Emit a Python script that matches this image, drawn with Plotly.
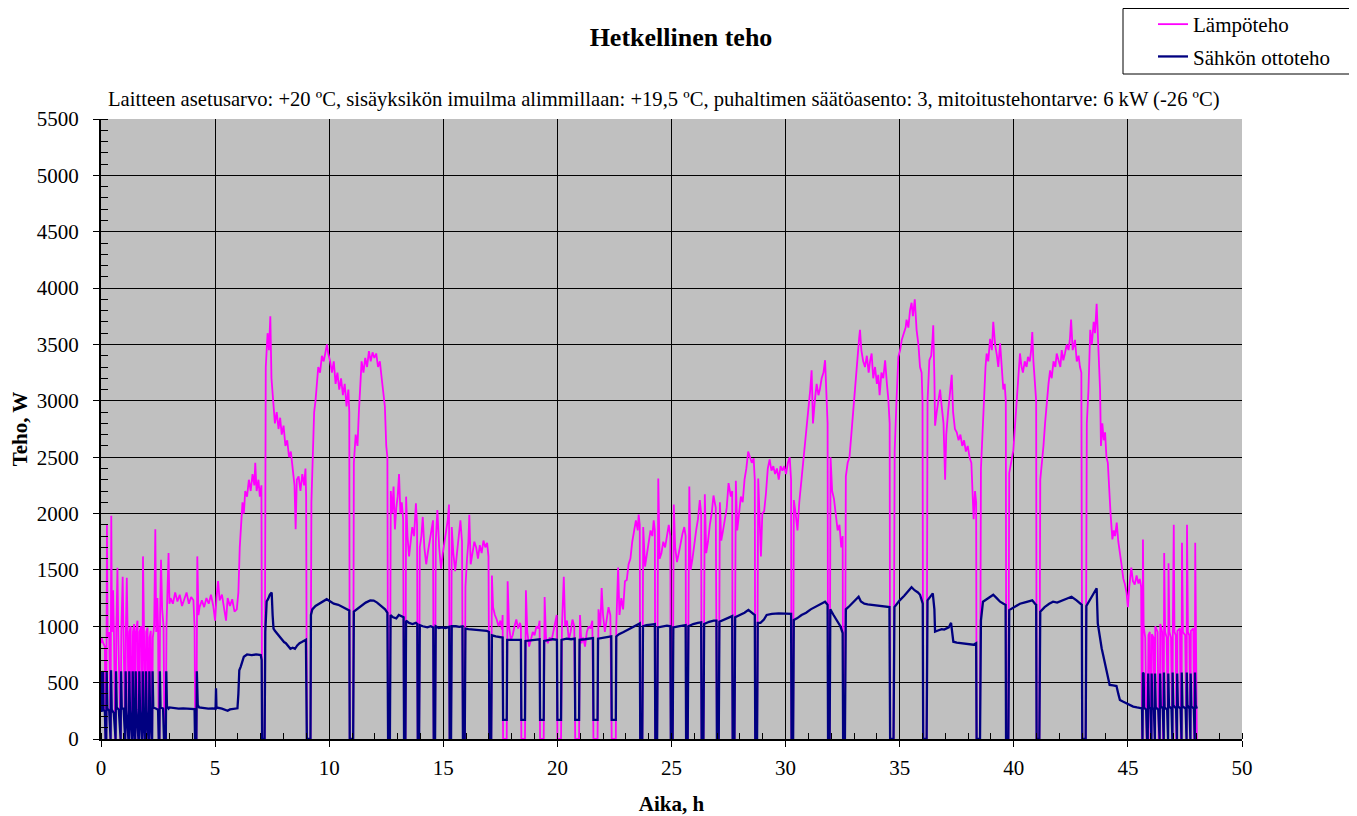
import plotly.graph_objects as go

# ---------------- data (hours, watts) ----------------
# Lämpöteho (heat output)
heat_00_03 = [(0.00, 850), (0.03, 900), (0.05, 880), (0.10, 850), (0.17, 820), (0.20, 0), (0.23, 0), (0.26, 1900),
              (0.29, 900), (0.36, 950), (0.40, 0), (0.42, 0), (0.45, 1980), (0.48, 950), (0.53, 1320), (0.57, 900),
              (0.62, 0), (0.64, 0), (0.67, 950), (0.72, 1520), (0.76, 900), (0.84, 0), (0.86, 0), (0.89, 950),
              (0.95, 1440), (0.99, 900), (1.04, 0), (1.06, 0), (1.09, 950), (1.13, 1430), (1.17, 900), (1.20, 0),
              (1.22, 0), (1.25, 950), (1.30, 1000), (1.35, 0), (1.37, 0), (1.40, 950), (1.45, 1020), (1.48, 0),
              (1.50, 0), (1.53, 950), (1.60, 1050), (1.64, 0), (1.66, 0), (1.69, 950), (1.76, 1000), (1.79, 0),
              (1.81, 0), (1.84, 1620), (1.88, 950), (1.93, 0), (1.95, 0), (1.98, 950), (2.04, 990), (2.08, 0),
              (2.10, 0), (2.13, 900), (2.18, 960), (2.22, 0), (2.24, 0), (2.27, 900), (2.33, 1000), (2.38, 1860),
              (2.42, 950), (2.47, 1250), (2.50, 1000), (2.53, 0), (2.56, 0), (2.59, 1100), (2.63, 1590), (2.68, 1150),
              (2.74, 1000), (2.78, 0), (2.84, 0), (2.87, 1000), (2.92, 1300), (2.96, 1650), (3.00, 1200)]
heat_03_06 = [(3.05, 1250), (3.15, 1200), (3.25, 1300), (3.35, 1220), (3.45, 1280), (3.55, 1180), (3.65, 1250),
              (3.75, 1300), (3.85, 1200), (3.95, 1260), (4.05, 1230), (4.10, 1000), (4.13, 0), (4.18, 0), (4.22, 1620),
              (4.27, 1100), (4.32, 1170), (4.42, 1230), (4.52, 1170), (4.62, 1250), (4.72, 1200), (4.82, 1280),
              (4.92, 1180), (5.00, 1050), (5.06, 1250), (5.13, 1400), (5.20, 1230), (5.30, 1280), (5.40, 1150),
              (5.48, 1050), (5.55, 1250), (5.65, 1180), (5.75, 1240), (5.85, 1130), (5.95, 1150)]
heat_06_09 = [(6.02, 1300), (6.08, 1700), (6.14, 1950), (6.20, 2100), (6.26, 2000), (6.32, 2200), (6.40, 2150),
              (6.48, 2300), (6.56, 2200), (6.64, 2350), (6.72, 2250), (6.76, 2450), (6.82, 2200), (6.90, 2300),
              (6.96, 2150), (7.03, 2250), (7.06, 0), (7.17, 0), (7.22, 3300), (7.30, 3600), (7.36, 3450), (7.42, 3750),
              (7.47, 3200), (7.55, 2950), (7.62, 2800), (7.70, 2900), (7.78, 2750), (7.85, 2850), (7.92, 2700),
              (8.00, 2780), (8.08, 2600), (8.16, 2650), (8.24, 2500), (8.32, 2550), (8.40, 2400), (8.48, 2250),
              (8.53, 1860), (8.58, 2300), (8.66, 2330), (8.74, 2200), (8.82, 2350), (8.90, 2250), (8.96, 2400),
              (8.99, 2150), (9.02, 0), (9.18, 0)]
heat_09_13 = [(9.22, 2100), (9.28, 2500), (9.34, 2900), (9.40, 3000), (9.46, 3200), (9.52, 3300), (9.60, 3250),
              (9.68, 3400), (9.76, 3350), (9.84, 3450), (9.90, 3500), (9.96, 3420), (10.04, 3350), (10.12, 3250),
              (10.20, 3350), (10.28, 3150), (10.36, 3250), (10.44, 3100), (10.52, 3200), (10.60, 3050), (10.68, 3150),
              (10.76, 2950), (10.84, 3100), (10.88, 2900), (10.90, 0), (11.05, 0), (11.08, 2450), (11.16, 2700),
              (11.24, 2600), (11.30, 2900), (11.36, 3200), (11.42, 3350), (11.50, 3250), (11.58, 3380), (11.66, 3300),
              (11.74, 3440), (11.82, 3350), (11.90, 3430), (11.98, 3380), (12.06, 3420), (12.14, 3300), (12.22, 3350),
              (12.30, 3200), (12.38, 3050), (12.44, 2950), (12.50, 2600), (12.55, 2500), (12.58, 0), (12.66, 0)]
heat_13_17 = [(12.70, 2200), (12.76, 2000), (12.82, 2240), (12.88, 1860), (12.94, 2050), (13.00, 2150), (13.06, 2350),
              (13.12, 2000), (13.18, 2100), (13.24, 1950), (13.28, 0), (13.34, 0), (13.37, 2150), (13.43, 1800),
              (13.50, 1620), (13.56, 1750), (13.64, 1880), (13.72, 1800), (13.80, 2090), (13.85, 1900), (13.88, 0),
              (13.94, 0), (13.97, 1700), (14.04, 1800), (14.10, 1970), (14.17, 1700), (14.25, 1550), (14.32, 1650),
              (14.40, 1750), (14.47, 1850), (14.55, 1940), (14.58, 0), (14.64, 0), (14.67, 1750), (14.74, 2030),
              (14.82, 1700), (14.90, 1510), (14.98, 1650), (15.05, 1750), (15.12, 1850), (15.20, 1950), (15.25, 2080),
              (15.28, 0), (15.34, 0), (15.37, 1880), (15.44, 1650), (15.52, 1490), (15.60, 1650), (15.68, 1800),
              (15.75, 1940), (15.82, 1750), (15.86, 0), (15.94, 0), (15.97, 1350), (16.04, 1600), (16.10, 1750),
              (16.14, 1990), (16.20, 1550), (16.28, 1650), (16.36, 1750), (16.44, 1700), (16.52, 1600), (16.60, 1720),
              (16.68, 1650), (16.76, 1760), (16.84, 1700), (16.92, 1740), (16.98, 1620), (17.02, 0), (17.10, 0)]
heat_17_23 = [(17.13, 1450), (17.18, 1170), (17.26, 1100), (17.34, 1060), (17.42, 1000), (17.50, 1050), (17.57, 970),
              (17.60, 1100), (17.62, 0), (17.78, 0), (17.82, 1400), (17.88, 1000), (17.96, 880), (18.04, 920),
              (18.12, 1000), (18.20, 1060), (18.28, 980), (18.36, 1030), (18.40, 1000), (18.42, 0), (18.58, 0),
              (18.62, 1320), (18.68, 950), (18.76, 820), (18.84, 880), (18.92, 950), (19.00, 920), (19.08, 1000),
              (19.16, 980), (19.22, 1050), (19.24, 0), (19.40, 0), (19.44, 1260), (19.50, 900), (19.58, 850),
              (19.66, 900), (19.74, 870), (19.82, 950), (19.90, 1000), (19.97, 1100), (20.00, 0), (20.16, 0),
              (20.20, 1000), (20.28, 1440), (20.34, 1000), (20.42, 1050), (20.50, 880), (20.58, 950), (20.66, 1060),
              (20.74, 1000), (20.78, 0), (20.95, 0), (20.99, 1100), (21.05, 850), (21.13, 900), (21.21, 820),
              (21.29, 950), (21.37, 1000), (21.45, 980), (21.53, 1050), (21.58, 0), (21.76, 0), (21.80, 1150),
              (21.88, 1000), (21.94, 1340), (22.00, 1100), (22.08, 950), (22.16, 1050), (22.24, 1170), (22.32, 1100),
              (22.38, 0), (22.56, 0)]
heat_23_30 = [(22.58, 1000), (22.66, 1520), (22.72, 1100), (22.80, 1250), (22.88, 1150), (22.96, 1400), (23.04, 1410),
              (23.12, 1550), (23.20, 1600), (23.28, 1750), (23.36, 1850), (23.44, 1940), (23.52, 1850), (23.56, 1990),
              (23.61, 1900), (23.63, 0), (23.72, 0), (23.76, 1880), (23.84, 1530), (23.92, 1650), (24.00, 1750),
              (24.08, 1850), (24.16, 1800), (24.22, 1940), (24.27, 1850), (24.29, 0), (24.37, 0), (24.42, 2310),
              (24.48, 1600), (24.56, 1650), (24.64, 1750), (24.72, 1700), (24.80, 1800), (24.88, 1900), (24.95, 1800),
              (24.97, 0), (25.05, 0), (25.10, 2080), (25.16, 1700), (25.24, 1570), (25.32, 1650), (25.40, 1750),
              (25.48, 1820), (25.56, 1880), (25.62, 1800), (25.64, 0), (25.71, 0), (25.78, 2240), (25.84, 1500),
              (25.92, 1600), (26.00, 1750), (26.08, 1850), (26.16, 1950), (26.24, 2120), (26.30, 2000), (26.32, 0),
              (26.40, 0), (26.46, 2170), (26.52, 1650), (26.60, 1750), (26.68, 1900), (26.76, 2000), (26.84, 2160),
              (26.94, 2050), (26.99, 0), (27.07, 0), (27.12, 2100), (27.18, 1760), (27.26, 1850), (27.34, 1950),
              (27.42, 2050), (27.50, 2270), (27.60, 2150), (27.66, 2200), (27.68, 0), (27.76, 0), (27.82, 2290),
              (27.88, 1850), (27.96, 2000), (28.04, 2150), (28.12, 2100), (28.20, 2300), (28.28, 2400), (28.36, 2550),
              (28.44, 2500), (28.52, 2450), (28.60, 2490), (28.65, 2300), (28.67, 0), (28.75, 0), (28.80, 2310),
              (28.86, 1900), (28.92, 1620), (28.98, 2000), (29.06, 2020), (29.14, 2180), (29.22, 2400), (29.30, 2480),
              (29.38, 2380), (29.46, 2420), (29.54, 2350), (29.62, 2400), (29.70, 2300), (29.78, 2420), (29.86, 2380),
              (29.94, 2420), (30.02, 2350), (30.10, 2450), (30.18, 2500), (30.24, 2300), (30.26, 0), (30.33, 0)]
heat_30_36 = [(30.36, 2120), (30.44, 2000), (30.52, 1850), (30.60, 2100), (30.70, 2300), (30.80, 2550), (30.90, 2700),
              (31.00, 2900), (31.08, 3100), (31.14, 3270), (31.20, 2800), (31.28, 3000), (31.36, 3150), (31.44, 3050),
              (31.50, 3100), (31.58, 3200), (31.66, 3250), (31.73, 3360), (31.79, 3000), (31.84, 2800), (31.86, 0),
              (31.93, 0), (31.97, 2500), (32.04, 2200), (32.12, 2130), (32.20, 2000), (32.28, 1850), (32.36, 1900),
              (32.44, 1700), (32.50, 1800), (32.52, 0), (32.60, 0), (32.64, 2330), (32.72, 2450), (32.80, 2500),
              (32.88, 2700), (32.94, 2860), (33.02, 3050), (33.08, 3250), (33.16, 3400), (33.22, 3550), (33.26, 3630),
              (33.32, 3450), (33.40, 3350), (33.48, 3300), (33.56, 3400), (33.64, 3250), (33.70, 3350), (33.77, 3420),
              (33.84, 3200), (33.92, 3300), (34.00, 3150), (34.06, 3230), (34.12, 3050), (34.20, 3250), (34.28, 3200),
              (34.36, 3360), (34.44, 3150), (34.50, 3020), (34.56, 2800), (34.58, 0), (34.73, 0), (34.78, 2560),
              (34.86, 3000), (34.94, 3390), (35.02, 3450), (35.09, 3540), (35.18, 3600), (35.26, 3650), (35.30, 3720),
              (35.38, 3650), (35.45, 3800), (35.52, 3870), (35.58, 3750), (35.66, 3900), (35.74, 3630), (35.82, 3500),
              (35.89, 3300), (35.96, 3250), (36.00, 3000), (36.03, 0), (36.18, 0)]
heat_36_43 = [(36.22, 3000), (36.30, 3360), (36.38, 3400), (36.44, 3550), (36.47, 3670), (36.52, 3200), (36.55, 2780),
              (36.62, 2900), (36.70, 3000), (36.77, 3100), (36.84, 2950), (36.92, 2800), (36.99, 2300), (37.04, 2700),
              (37.12, 2900), (37.20, 3050), (37.28, 3230), (37.34, 2900), (37.42, 2750), (37.50, 2720), (37.58, 2650),
              (37.66, 2700), (37.74, 2600), (37.82, 2650), (37.90, 2550), (37.98, 2600), (38.06, 2500), (38.14, 2450),
              (38.20, 2200), (38.24, 1950), (38.30, 2200), (38.35, 2100), (38.37, 0), (38.52, 0), (38.56, 2400),
              (38.62, 2720), (38.70, 3100), (38.76, 3300), (38.81, 3420), (38.88, 3350), (38.96, 3550), (39.04, 3450),
              (39.10, 3700), (39.18, 3500), (39.26, 3400), (39.32, 3300), (39.40, 3510), (39.48, 3250), (39.54, 3100),
              (39.60, 3150), (39.65, 3000), (39.67, 0), (39.76, 0), (39.80, 2360), (39.88, 2450), (39.98, 2560),
              (40.06, 2800), (40.12, 3000), (40.20, 3250), (40.27, 3420), (40.34, 3300), (40.40, 3250), (40.48, 3350),
              (40.56, 3300), (40.62, 3390), (40.70, 3350), (40.76, 3450), (40.81, 3610), (40.86, 3350), (40.93, 3110),
              (40.98, 3000), (41.00, 0), (41.12, 0), (41.16, 2300), (41.24, 2450), (41.30, 2600), (41.37, 2800),
              (41.44, 3000), (41.52, 3150), (41.59, 3270), (41.66, 3200), (41.74, 3350), (41.82, 3300), (41.88, 3420),
              (41.96, 3350), (42.04, 3300), (42.10, 3450), (42.17, 3360), (42.24, 3420), (42.32, 3500), (42.40, 3450),
              (42.46, 3550), (42.51, 3720), (42.58, 3450), (42.64, 3500), (42.68, 3540), (42.76, 3350), (42.84, 3400),
              (42.90, 3300), (42.96, 3250), (43.00, 0), (43.15, 0)]
heat_43_48 = [(43.20, 2800), (43.27, 3090), (43.35, 3630), (43.42, 3500), (43.50, 3700), (43.56, 3600), (43.63, 3860),
              (43.68, 3500), (43.72, 3400), (43.78, 3100), (43.82, 2600), (43.88, 2800), (43.94, 2650), (44.00, 2720),
              (44.06, 2500), (44.12, 2450), (44.17, 2210), (44.24, 2000), (44.32, 1770), (44.38, 1850), (44.44, 1800),
              (44.51, 1920), (44.58, 1750), (44.65, 1620), (44.72, 1550), (44.80, 1420), (44.86, 1380), (44.94, 1300),
              (45.00, 1170), (45.06, 1350), (45.15, 1520), (45.22, 1400), (45.30, 1370), (45.38, 1450), (45.46, 1380),
              (45.52, 1420), (45.58, 1350), (45.62, 0), (45.64, 0), (45.66, 1770), (45.69, 1000), (45.76, 900),
              (45.82, 0), (45.87, 0), (45.90, 920), (45.96, 950), (45.99, 0), (46.03, 0), (46.05, 930), (46.12, 900),
              (46.15, 0), (46.18, 0), (46.20, 1000), (46.30, 950), (46.35, 0), (46.39, 0), (46.42, 1020), (46.50, 950),
              (46.54, 0), (46.57, 0), (46.59, 1650), (46.63, 950), (46.70, 900), (46.73, 0), (46.76, 0), (46.78, 1560),
              (46.82, 950), (46.89, 900), (46.92, 0), (46.95, 0), (46.97, 1000), (47.01, 1900), (47.04, 950),
              (47.10, 920), (47.12, 0), (47.15, 0), (47.17, 960), (47.28, 980), (47.32, 0), (47.35, 0), (47.37, 1740),
              (47.41, 950), (47.51, 920), (47.54, 0), (47.57, 0), (47.59, 1900), (47.63, 950), (47.69, 920), (47.71, 0),
              (47.74, 0), (47.76, 960), (47.87, 980), (47.90, 0), (47.93, 0), (47.95, 1740), (47.98, 950), (48.02, 0)]

# Sähkön ottoteho (electric input power)
elec_00_03 = [(0.00, 250), (0.03, 250), (0.05, 600), (0.09, 590), (0.11, 260), (0.17, 240), (0.20, 0), (0.23, 0),
              (0.25, 600), (0.28, 270), (0.36, 250), (0.40, 0), (0.42, 0), (0.44, 610), (0.47, 260), (0.56, 230),
              (0.62, 0), (0.64, 0), (0.66, 600), (0.69, 280), (0.78, 260), (0.84, 0), (0.86, 0), (0.88, 600),
              (0.91, 270), (0.99, 270), (1.04, 0), (1.06, 0), (1.08, 600), (1.11, 250), (1.20, 0), (1.22, 0),
              (1.24, 600), (1.27, 250), (1.35, 0), (1.37, 0), (1.39, 600), (1.42, 250), (1.48, 0), (1.50, 0),
              (1.52, 600), (1.55, 260), (1.64, 0), (1.66, 0), (1.68, 600), (1.71, 250), (1.79, 0), (1.81, 0),
              (1.83, 600), (1.86, 250), (1.93, 0), (1.95, 0), (1.97, 600), (2.00, 250), (2.08, 0), (2.10, 0),
              (2.12, 600), (2.15, 250), (2.22, 0), (2.24, 0), (2.26, 600), (2.29, 280), (2.40, 270), (2.50, 260),
              (2.53, 0), (2.56, 0), (2.58, 600), (2.61, 280), (2.72, 270), (2.76, 0), (2.84, 0), (2.86, 600),
              (2.89, 290), (2.96, 270)]
elec_03_09 = [(3.00, 280), (3.20, 275), (3.40, 270), (3.60, 272), (3.80, 268), (4.00, 270), (4.10, 265), (4.12, 0),
              (4.18, 0), (4.20, 600), (4.24, 300), (4.30, 280), (4.50, 275), (4.70, 270), (4.90, 272), (5.02, 268),
              (5.04, 450), (5.06, 280), (5.30, 270), (5.45, 255), (5.55, 250), (5.65, 262), (5.85, 270), (5.98, 272),
              (6.02, 400), (6.06, 610), (6.12, 640), (6.18, 690), (6.26, 730), (6.40, 750), (6.60, 745), (6.80, 750),
              (7.00, 745), (7.04, 700), (7.06, 0), (7.17, 0), (7.20, 950), (7.26, 1220), (7.32, 1240), (7.40, 1280),
              (7.48, 1300), (7.52, 1100), (7.56, 980), (7.62, 960), (7.70, 940), (7.78, 920), (7.86, 900), (7.94, 880),
              (8.02, 860), (8.10, 850), (8.20, 820), (8.30, 800), (8.40, 810), (8.50, 800), (8.60, 830), (8.70, 850),
              (8.80, 860), (8.90, 870), (8.98, 880), (9.02, 0), (9.18, 0)]
elec_09_17 = [(9.20, 1100), (9.26, 1150), (9.40, 1180), (9.55, 1200), (9.70, 1220), (9.89, 1240), (10.05, 1220),
              (10.20, 1200), (10.40, 1190), (10.60, 1170), (10.80, 1150), (10.88, 1140), (10.90, 0), (11.05, 0),
              (11.08, 1130), (11.20, 1150), (11.40, 1180), (11.60, 1210), (11.80, 1230), (11.95, 1228), (12.10, 1210),
              (12.30, 1180), (12.45, 1150), (12.55, 1120), (12.58, 0), (12.66, 0), (12.69, 1100), (12.80, 1080),
              (12.94, 1070), (13.05, 1100), (13.20, 1090), (13.26, 1080), (13.28, 0), (13.34, 0), (13.37, 1050),
              (13.50, 1030), (13.65, 1020), (13.80, 1030), (13.86, 1020), (13.88, 0), (13.94, 0), (13.97, 1010),
              (14.10, 1000), (14.30, 990), (14.45, 1000), (14.56, 990), (14.58, 0), (14.64, 0), (14.67, 1000),
              (14.80, 985), (14.95, 990), (15.10, 985), (15.26, 995), (15.28, 0), (15.34, 0), (15.37, 1000),
              (15.55, 1000), (15.70, 995), (15.84, 1000), (15.86, 0), (15.94, 0), (15.97, 980), (16.10, 975),
              (16.30, 970), (16.50, 968), (16.70, 965), (16.90, 960), (17.00, 950), (17.02, 0), (17.10, 0)]
elec_17_23 = [(17.13, 920), (17.30, 910), (17.50, 905), (17.60, 900), (17.62, 170), (17.78, 170), (17.80, 880),
              (18.00, 880), (18.20, 885), (18.40, 880), (18.42, 170), (18.58, 170), (18.60, 870), (18.80, 875),
              (19.00, 880), (19.22, 885), (19.24, 170), (19.40, 170), (19.42, 870), (19.60, 880), (19.80, 885),
              (19.98, 880), (20.00, 170), (20.16, 170), (20.18, 880), (20.40, 890), (20.60, 885), (20.76, 890),
              (20.78, 170), (20.95, 170), (20.97, 880), (21.20, 885), (21.40, 890), (21.56, 895), (21.58, 170),
              (21.76, 170), (21.78, 890), (22.00, 900), (22.20, 905), (22.36, 910), (22.38, 170), (22.56, 170),
              (22.58, 910)]
elec_23_30 = [(22.70, 930), (22.90, 950), (23.10, 970), (23.30, 990), (23.50, 1010), (23.61, 1025), (23.63, 0),
              (23.72, 0), (23.75, 1000), (23.90, 1010), (24.10, 1015), (24.27, 1020), (24.29, 0), (24.37, 0),
              (24.40, 990), (24.60, 1000), (24.80, 1005), (24.95, 1000), (24.97, 0), (25.05, 0), (25.08, 990),
              (25.30, 1000), (25.50, 1010), (25.62, 1010), (25.64, 0), (25.71, 0), (25.74, 1000), (25.95, 1020),
              (26.15, 1030), (26.30, 1035), (26.32, 0), (26.40, 0), (26.43, 1020), (26.65, 1040), (26.85, 1050),
              (26.97, 1050), (26.99, 0), (27.07, 0), (27.10, 1040), (27.30, 1060), (27.50, 1080), (27.66, 1090),
              (27.68, 0), (27.76, 0), (27.79, 1080), (28.00, 1100), (28.20, 1120), (28.37, 1145), (28.50, 1120),
              (28.65, 1100), (28.67, 0), (28.75, 0), (28.78, 1030), (28.90, 1030), (29.05, 1060), (29.17, 1100),
              (29.40, 1110), (29.70, 1115), (30.00, 1112), (30.20, 1115), (30.24, 1110), (30.26, 0), (30.33, 0)]
elec_30_39 = [(30.36, 1056), (30.50, 1070), (30.70, 1100), (30.90, 1120), (31.10, 1150), (31.30, 1170), (31.50, 1190),
              (31.73, 1218), (31.84, 1190), (31.86, 0), (31.93, 0), (31.96, 1150), (32.10, 1100), (32.24, 1056),
              (32.40, 1000), (32.50, 940), (32.52, 0), (32.60, 0), (32.64, 1150), (32.80, 1180), (33.00, 1220),
              (33.20, 1262), (33.30, 1220), (33.45, 1200), (33.60, 1195), (33.80, 1190), (34.00, 1185), (34.20, 1180),
              (34.40, 1175), (34.55, 1170), (34.58, 0), (34.73, 0), (34.77, 1170), (34.90, 1210), (35.00, 1230),
              (35.20, 1270), (35.40, 1320), (35.52, 1346), (35.65, 1320), (35.80, 1300), (35.89, 1280), (35.98, 1230),
              (36.01, 1200), (36.03, 0), (36.18, 0), (36.22, 1230), (36.35, 1260), (36.45, 1292), (36.52, 1150),
              (36.55, 952), (36.65, 960), (36.75, 965), (36.84, 975), (36.95, 970), (37.05, 980), (37.15, 990),
              (37.25, 1030), (37.30, 960), (37.35, 863), (37.50, 855), (37.70, 850), (37.90, 845), (38.10, 840),
              (38.23, 836), (38.35, 850), (38.37, 0), (38.52, 0), (38.56, 1050), (38.65, 1218), (38.80, 1240),
              (38.95, 1260), (39.10, 1280), (39.25, 1250), (39.40, 1218), (39.55, 1200), (39.64, 1190), (39.66, 0),
              (39.76, 0)]
elec_39_45 = [(39.80, 1144), (39.95, 1160), (40.10, 1180), (40.27, 1200), (40.45, 1210), (40.65, 1220), (40.81, 1230),
              (40.93, 1200), (40.98, 1190), (41.00, 0), (41.12, 0), (41.16, 1130), (41.35, 1170), (41.55, 1200),
              (41.72, 1218), (41.90, 1210), (42.10, 1225), (42.30, 1240), (42.53, 1262), (42.75, 1230), (42.95, 1200),
              (42.98, 1190), (43.00, 0), (43.15, 0), (43.18, 1180), (43.30, 1220), (43.45, 1280), (43.63, 1337),
              (43.68, 1026), (43.76, 900), (43.85, 805), (43.92, 740), (44.00, 672), (44.10, 560), (44.20, 479),
              (44.35, 475), (44.50, 470), (44.58, 400), (44.65, 346), (44.80, 330), (44.94, 316), (45.10, 300),
              (45.23, 287), (45.40, 280), (45.60, 272)]
elec_45_48 = [(45.62, 272), (45.64, 0), (45.66, 590), (45.69, 580), (45.71, 280), (45.80, 260), (45.84, 0), (45.87, 0),
              (45.89, 580), (45.92, 280), (45.99, 270), (46.01, 0), (46.03, 0), (46.04, 580), (46.07, 280),
              (46.14, 260), (46.16, 0), (46.18, 0), (46.19, 580), (46.22, 280), (46.33, 260), (46.37, 0), (46.39, 0),
              (46.41, 580), (46.44, 290), (46.53, 270), (46.55, 0), (46.57, 0), (46.58, 590), (46.61, 280),
              (46.72, 260), (46.74, 0), (46.76, 0), (46.77, 580), (46.80, 290), (46.91, 270), (46.93, 0), (46.95, 0),
              (46.96, 590), (46.99, 300), (47.11, 270), (47.13, 0), (47.15, 0), (47.16, 580), (47.19, 290),
              (47.31, 270), (47.33, 0), (47.35, 0), (47.36, 590), (47.39, 290), (47.53, 270), (47.55, 0), (47.57, 0),
              (47.58, 590), (47.61, 300), (47.70, 270), (47.72, 0), (47.74, 0), (47.75, 580), (47.78, 290),
              (47.89, 270), (47.91, 0), (47.93, 0), (47.94, 590), (47.97, 300), (48.02, 270)]

series_names = ["Lämpöteho", "Sähkön ottoteho"]
x_ticks = [0, 5, 10, 15, 20, 25, 30, 35, 40, 45, 50]
y_ticks = [0, 500, 1000, 1500, 2000, 2500, 3000, 3500, 4000, 4500, 5000, 5500]

title_text = "Hetkellinen teho"
subtitle_text = ("Laitteen asetusarvo: +20 ºC, sisäyksikön imuilma alimmillaan: +19,5 ºC, "
                 "puhaltimen säätöasento: 3, mitoitustehontarve: 6 kW (-26 ºC)")
x_title = "Aika, h"
y_title = "Teho, W"

# ---------------- assemble ----------------
heat = heat_00_03 + heat_03_06 + heat_06_09 + heat_09_13 + heat_13_17 + heat_17_23 + heat_23_30 + heat_30_36 + heat_36_43 + heat_43_48
elec = elec_00_03 + elec_03_09 + elec_09_17 + elec_17_23 + elec_23_30 + elec_30_39 + elec_39_45 + elec_45_48

FONT = "Liberation Serif, Times New Roman, serif"
W, H = 1357, 816
OFF = 8  # the page body has an 8px margin; positions below are page pixels minus this offset
L, R, T, B = 101 - OFF, 1242 - OFF, 119 - OFF, 739 - OFF  # plot area in figure pixels


def px_x(x):
    return (x - OFF - L) / (R - L)


def px_y(y):
    return (B - (y - OFF)) / (B - T)


fig = go.Figure()
fig.add_trace(go.Scatter(x=[p[0] for p in heat], y=[p[1] for p in heat], mode="lines",
                         name=series_names[0], legendgroup="a",
                         line=dict(color="#FF00FF", width=1.8)))
fig.add_trace(go.Scatter(x=[p[0] for p in elec], y=[p[1] for p in elec], mode="lines",
                         name=series_names[1], legendgroup="b",
                         line=dict(color="#000080", width=2.3)))

fig.update_layout(
    width=W, height=H,
    margin=dict(l=L, r=W - R, t=T, b=H - B, pad=0, autoexpand=False),
    paper_bgcolor="white", plot_bgcolor="#C0C0C0",
    font=dict(family=FONT, size=21, color="black"),
    title=dict(text="<b>" + title_text + "</b>", xref="container", yref="container",
               x=(681 - OFF) / W, xanchor="center",
               y=1 - (37 - OFF) / H, yanchor="middle", font=dict(family=FONT, size=26, color="black")),
    showlegend=True,
    legend=dict(xref="paper", yref="paper", x=px_x(1153), y=px_y(4),
                xanchor="left", yanchor="top",
                bgcolor="rgba(0,0,0,0)", borderwidth=0, tracegroupgap=2,
                font=dict(family=FONT, size=21, color="black")),
    shapes=[dict(type="rect", xref="paper", yref="paper",
                 x0=px_x(1123), x1=px_x(1352), y0=px_y(74), y1=px_y(8.5),
                 line=dict(color="black", width=1), fillcolor="white", layer="below")],
    annotations=[dict(text=subtitle_text, xref="paper", yref="paper", x=px_x(106), y=px_y(100),
                      xanchor="left", yanchor="middle", showarrow=False,
                      font=dict(family=FONT, size=20.6, color="black"))],
)

fig.update_xaxes(range=[0, 50], tickvals=x_ticks, ticks="outside", ticklen=6, tickwidth=1, tickcolor="black",
                 showline=True, linecolor="black", linewidth=2, showgrid=True, gridcolor="black", gridwidth=1,
                 zeroline=False, automargin=False, tickfont=dict(family=FONT, size=21), ticklabelstandoff=3,
                 minor=dict(dtick=1, ticks="inside", ticklen=6, tickcolor="black", showgrid=False),
                 title=dict(text="<b>" + x_title + "</b>", font=dict(family=FONT, size=21), standoff=17))
fig.update_yaxes(range=[0, 5500], tickvals=y_ticks, ticks="outside", ticklen=6, tickwidth=1, tickcolor="black",
                 showline=True, linecolor="black", linewidth=2, showgrid=True, gridcolor="black", gridwidth=1,
                 zeroline=False, automargin=False, tickfont=dict(family=FONT, size=21), ticklabelstandoff=10,
                 minor=dict(dtick=100, ticks="inside", ticklen=7, tickcolor="black", showgrid=False),
                 title=dict(text="<b>" + y_title + "</b>", font=dict(family=FONT, size=21), standoff=6))

fig.write_html("out.html")
